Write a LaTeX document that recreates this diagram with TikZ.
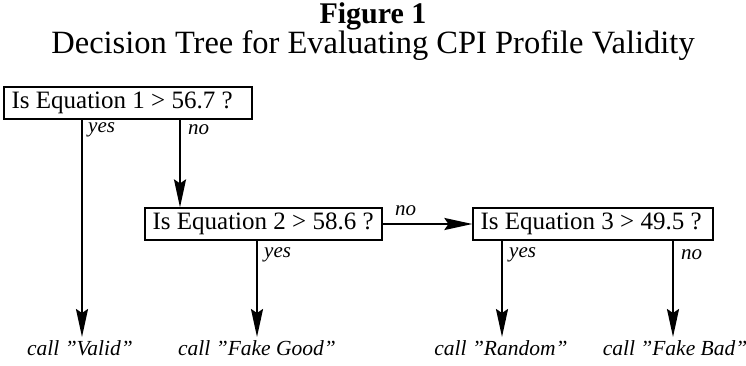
\documentclass[tikz,border=0pt]{standalone}
\usepackage{fontspec}
\setmainfont{Liberation Serif}
\usetikzlibrary{arrows.meta}
\tikzset{
  qbox/.style={draw, line width=1.2pt, minimum height=32pt, inner sep=0pt},
  qtext/.style={anchor=west, inner sep=0pt, font=\fontsize{25}{30}\selectfont},
  arr/.style={line width=2.2pt, -{Stealth[length=28pt,width=12pt,inset=4pt]}},
  lab/.style={font=\itshape\fontsize{21}{24}\selectfont, inner sep=0pt},
  res/.style={font=\itshape\fontsize{21.5}{26}\selectfont, inner sep=0pt, anchor=base},
}
\begin{document}
\begin{tikzpicture}[x=1pt,y=1pt]
\useasboundingbox (0,0) rectangle (746,365);
\node[font=\bfseries\fontsize{30}{34}\selectfont, anchor=base, inner sep=0pt] (t1) at (373,341) {Figure 1};
\node[font=\fontsize{32.5}{36}\selectfont, anchor=base, inner sep=0pt] (t2) at (373,311) {Decision Tree for Evaluating CPI Profile Validity};
\node[qbox, minimum width=248pt] (b1) at (128,262) {};
\node[qbox, minimum width=237pt] (b2) at (263.5,141) {};
\node[qbox, minimum width=240pt] (b3) at (593,141) {};
\node[qtext] (q1) at ([xshift=8pt]b1.west) {Is Equation 1 > 56.7 ?};
\node[qtext] (q2) at ([xshift=8pt]b2.west) {Is Equation 2 > 58.6 ?};
\node[qtext] (q3) at ([xshift=8pt]b3.west) {Is Equation 3 > 49.5 ?};
\node[res] (r1) at (80,10) {call "Valid"};
\node[res] (r2) at (257,10) {call "Fake Good"};
\node[res] (r3) at (501,10) {call "Random"};
\node[res] (r4) at (675,10) {call "Fake Bad"};
\coordinate (c1) at (82,28);
\coordinate (c2) at (257,28);
\coordinate (c3) at (502,28);
\coordinate (c4) at (673,28);
\draw[arr] (b1.south -| c1) -- (c1);
\draw[arr] (b1.south -| 180,0) -- (b2.north -| 180,0);
\draw[arr] (b2.east) -- (b3.west);
\draw[arr] (b2.south -| c2) -- (c2);
\draw[arr] (b3.south -| c3) -- (c3);
\draw[arr] (b3.south -| c4) -- (c4);
\node[lab, anchor=west] at (88,235) {yes};
\node[lab, anchor=west] at (188,235) {no};
\node[lab, anchor=west] at (395,154) {no};
\node[lab, anchor=west] at (264,110) {yes};
\node[lab, anchor=west] at (509,110) {yes};
\node[lab, anchor=west] at (681,110) {no};
\end{tikzpicture}
\end{document}
